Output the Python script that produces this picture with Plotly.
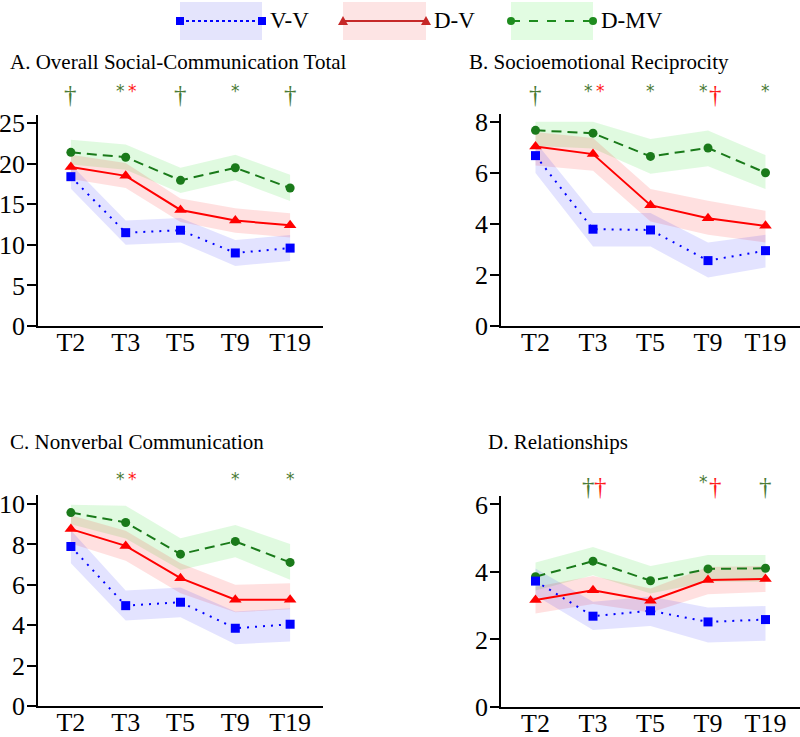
import plotly.graph_objects as go

# ---------------- data ----------------
TIMES = ["T2", "T3", "T5", "T9", "T19"]

# Panel A: Overall Social-Communication Total
A_VV = [18.4, 11.5, 11.8, 9.0, 9.6]
A_VV_LO = [16.9, 10.0, 10.3, 7.4, 8.0]
A_VV_HI = [19.9, 13.0, 13.3, 10.6, 11.2]
A_DV = [19.6, 18.5, 14.3, 13.0, 12.4]
A_DV_LO = [18.1, 17.0, 12.8, 11.5, 10.9]
A_DV_HI = [21.1, 20.1, 15.7, 14.5, 13.9]
A_DMV = [21.4, 20.8, 17.95, 19.5, 17.0]
A_DMV_LO = [19.9, 19.25, 16.4, 17.95, 15.4]
A_DMV_HI = [22.95, 22.35, 19.5, 21.1, 18.65]

# Panel B: Socioemotional Reciprocity
B_VV = [6.67, 3.79, 3.76, 2.56, 2.95]
B_VV_LO = [5.99, 3.11, 3.11, 1.90, 2.29]
B_VV_HI = [7.20, 4.42, 4.42, 3.27, 3.57]
B_DV = [7.03, 6.73, 4.73, 4.22, 3.92]
B_DV_LO = [6.28, 6.08, 4.09, 3.57, 3.27]
B_DV_HI = [7.60, 7.36, 5.36, 4.90, 4.51]
B_DMV = [7.66, 7.55, 6.64, 6.97, 6.00]
B_DMV_LO = [7.05, 6.95, 5.96, 6.25, 5.36]
B_DMV_HI = [8.00, 8.00, 7.32, 7.65, 6.69]

# Panel C: Nonverbal Communication
C_VV = [7.90, 4.97, 5.14, 3.85, 4.05]
C_VV_LO = [7.07, 4.23, 4.40, 3.06, 3.19]
C_VV_HI = [8.70, 5.72, 5.87, 4.68, 4.84]
C_DV = [8.76, 7.93, 6.33, 5.26, 5.26]
C_DV_LO = [8.05, 7.19, 5.59, 4.64, 4.79]
C_DV_HI = [9.45, 8.68, 7.07, 6.00, 6.08]
C_DMV = [9.58, 9.09, 7.52, 8.15, 7.11]
C_DMV_LO = [9.00, 8.30, 6.74, 7.37, 6.25]
C_DMV_HI = [9.97, 9.92, 8.31, 8.97, 8.02]

# Panel D: Relationships
D_VV = [3.73, 2.69, 2.85, 2.52, 2.59]
D_VV_LO = [3.30, 2.28, 2.40, 1.91, 1.96]
D_VV_HI = [4.10, 3.12, 3.27, 2.95, 2.99]
D_DV = [3.17, 3.46, 3.15, 3.76, 3.79]
D_DV_LO = [2.77, 3.05, 2.80, 3.34, 3.41]
D_DV_HI = [3.56, 3.88, 3.51, 4.15, 4.18]
D_DMV = [3.86, 4.32, 3.74, 4.09, 4.11]
D_DMV_LO = [3.45, 3.90, 3.36, 3.71, 3.71]
D_DMV_HI = [4.28, 4.74, 4.18, 4.50, 4.50]

# significance markers: (time, symbol, group)  g = D-MV, r = D-V
SIG_A = [("T2", "†", "g"), ("T3", "*", "g"), ("T3", "*", "r"), ("T5", "†", "g"),
         ("T9", "*", "g"), ("T19", "†", "g")]
SIG_B = [("T2", "†", "g"), ("T3", "*", "g"), ("T3", "*", "r"), ("T5", "*", "g"),
         ("T9", "*", "g"), ("T9", "†", "r"), ("T19", "*", "g")]
SIG_C = [("T3", "*", "g"), ("T3", "*", "r"), ("T9", "*", "g"), ("T19", "*", "g")]
SIG_D = [("T3", "†", "g"), ("T3", "†", "r"), ("T9", "*", "g"), ("T9", "†", "r"),
         ("T19", "†", "g")]

TITLES = ["A. Overall Social-Communication Total", "B. Socioemotional Reciprocity",
          "C. Nonverbal Communication", "D. Relationships"]
Y_TICKS = [[0, 5, 10, 15, 20, 25], [0, 2, 4, 6, 8], [0, 2, 4, 6, 8, 10], [0, 2, 4, 6]]
GROUPS = ["V-V", "D-V", "D-MV"]

# ---------------- styling / layout ----------------
W, H = 800, 737
FONT = "Liberation Serif, Times New Roman, serif"
COL = {"V-V": "#0000ff", "D-V": "#ff0000", "D-MV": "#1a7a1a"}
BAND = {"V-V": "rgba(0,0,255,0.11)", "D-V": "rgba(255,0,0,0.12)", "D-MV": "rgba(0,210,0,0.12)"}
DASH = {"V-V": "2px,6px", "D-V": "solid", "D-MV": "10px,6px"}
SYM = {"V-V": "square", "D-V": "triangle-up", "D-MV": "circle"}
MSIZE = {"V-V": 9, "D-V": 11, "D-MV": 9}
SIGCOL = {"g": "#4a7a35", "r": "#ff1a1a"}


def px(x):
    return x / W


def py(y):
    return 1 - y / H


# pixel geometry of panels: (x_left, x_right, y_bottom(=0), y_top, ymax)
PANELS = [
    (38, 323, 326, 115, 26.0),
    (501, 800, 326, 114, 8.3),
    (38, 323, 706, 495, 10.45),
    (501, 800, 707, 496, 6.25),
]
TITLE_POS = [(8, 62), (467, 62), (8, 442), (486, 442)]
SIG_Y = [90, 90, 478, 481]

panel_data = [
    [(A_VV, A_VV_LO, A_VV_HI), (A_DV, A_DV_LO, A_DV_HI), (A_DMV, A_DMV_LO, A_DMV_HI)],
    [(B_VV, B_VV_LO, B_VV_HI), (B_DV, B_DV_LO, B_DV_HI), (B_DMV, B_DMV_LO, B_DMV_HI)],
    [(C_VV, C_VV_LO, C_VV_HI), (C_DV, C_DV_LO, C_DV_HI), (C_DMV, C_DMV_LO, C_DMV_HI)],
    [(D_VV, D_VV_LO, D_VV_HI), (D_DV, D_DV_LO, D_DV_HI), (D_DMV, D_DMV_LO, D_DMV_HI)],
]
SIGS = [SIG_A, SIG_B, SIG_C, SIG_D]

fig = go.Figure()
layout_axes = {}
annotations = []

for i, (xl, xr, yb, yt, ymax) in enumerate(PANELS):
    n = i + 1
    xa = "x" if n == 1 else f"x{n}"
    ya = "y" if n == 1 else f"y{n}"
    series = dict(zip(GROUPS, panel_data[i]))
    for g in ["D-MV", "D-V", "V-V"]:
        m, lo, hi = series[g]
        fig.add_trace(go.Scatter(x=TIMES, y=lo, mode="lines", line=dict(width=0),
                                 hoverinfo="skip", showlegend=False, xaxis=xa, yaxis=ya))
        fig.add_trace(go.Scatter(x=TIMES, y=hi, mode="lines", line=dict(width=0),
                                 fill="tonexty", fillcolor=BAND[g],
                                 hoverinfo="skip", showlegend=False, xaxis=xa, yaxis=ya))
    for g in ["D-MV", "D-V", "V-V"]:
        m, lo, hi = series[g]
        fig.add_trace(go.Scatter(
            x=TIMES, y=m, mode="lines+markers", name=g, showlegend=False,
            line=dict(color=COL[g], width=2, dash=DASH[g]),
            marker=dict(symbol=SYM[g], size=MSIZE[g], color=COL[g]),
            xaxis=xa, yaxis=ya))

    layout_axes[f"xaxis{'' if n == 1 else n}"] = dict(
        domain=[px(xl), px(xr)], anchor=ya, type="category",
        categoryorder="array", categoryarray=TIMES, range=[-0.6, 4.6],
        showline=True, linecolor="black", linewidth=1.5, showgrid=False,
        zeroline=False, ticks="", ticklabelstandoff=-8, automargin=False,
        tickfont=dict(family=FONT, size=26, color="black"), fixedrange=True)
    layout_axes[f"yaxis{'' if n == 1 else n}"] = dict(
        domain=[py(yb), py(yt)], anchor=xa, range=[0, ymax],
        tickvals=Y_TICKS[i], showline=True, linecolor="black", linewidth=1.5,
        showgrid=False, zeroline=False, ticks="outside", ticklen=9, tickwidth=1.5,
        tickcolor="black", tickfont=dict(family=FONT, size=26, color="black"),
        ticklabelstandoff=-3, automargin=False, fixedrange=True)

    tx, ty = TITLE_POS[i]
    annotations.append(dict(text=TITLES[i], xref="paper", yref="paper", x=px(tx), y=py(ty),
                            xanchor="left", yanchor="middle", showarrow=False,
                            font=dict(family=FONT, size=21, color="black")))

    times_with = {}
    for t, s, c in SIGS[i]:
        times_with.setdefault(t, []).append((s, c))
    for t, items in times_with.items():
        for k, (s, c) in enumerate(items):
            shift = 0 if len(items) == 1 else (-5 if k == 0 else 7)
            if s == "†":
                annotations.append(dict(text=s, xref=xa, yref="paper", x=t, y=py(SIG_Y[i] + 5),
                                        xshift=shift, xanchor="center", yanchor="middle",
                                        showarrow=False,
                                        font=dict(family=FONT, size=25, color=SIGCOL[c])))
            else:
                annotations.append(dict(text=s, xref=xa, yref="paper", x=t, y=py(SIG_Y[i] + 1),
                                        xshift=shift, xanchor="center", yanchor="middle",
                                        showarrow=False,
                                        font=dict(family="DejaVu Sans", size=17, color=SIGCOL[c])))

# ---------------- custom legend ----------------
LEG_BOX = {"V-V": (180, 262), "D-V": (343, 426), "D-MV": (511, 593)}
LEG_COL = {"V-V": "#0000ff", "D-V": "#c62828", "D-MV": "#1e8c1e"}
LEG_FILL = {"V-V": "#e4e4fc", "D-V": "#fde4e4", "D-MV": "#e2fce2"}
LEG_DASH = {"V-V": "dot", "D-V": "solid", "D-MV": "dash"}
shapes = []
ly = 21
for g in GROUPS:
    x0, x1 = LEG_BOX[g]
    shapes.append(dict(type="rect", xref="paper", yref="paper", x0=px(x0), x1=px(x1),
                       y0=py(40), y1=py(2), fillcolor=LEG_FILL[g], line=dict(width=0),
                       layer="below"))
    shapes.append(dict(type="line", xref="paper", yref="paper", x0=px(x0), x1=px(x1),
                       y0=py(ly), y1=py(ly), line=dict(color=LEG_COL[g], width=2,
                                                       dash=LEG_DASH[g])))
    for xc in (x0, x1):
        if g == "V-V":
            shapes.append(dict(type="rect", xref="paper", yref="paper",
                               x0=px(xc - 4), x1=px(xc + 4), y0=py(ly + 4), y1=py(ly - 4),
                               fillcolor=LEG_COL[g], line=dict(width=0)))
        elif g == "D-MV":
            shapes.append(dict(type="circle", xref="paper", yref="paper",
                               x0=px(xc - 4), x1=px(xc + 4), y0=py(ly + 4), y1=py(ly - 4),
                               fillcolor=LEG_COL[g], line=dict(width=0)))
        else:
            shapes.append(dict(type="path", xref="paper", yref="paper",
                               path=f"M {px(xc-5)},{py(ly+4)} L {px(xc+5)},{py(ly+4)} "
                                    f"L {px(xc)},{py(ly-5)} Z",
                               fillcolor=LEG_COL[g], line=dict(width=0)))
    annotations.append(dict(text=g, xref="paper", yref="paper", x=px(x1 + 6), y=py(ly),
                            xanchor="left", yanchor="middle", showarrow=False,
                            font=dict(family=FONT, size=23, color="black")))

fig.update_layout(
    template="none",
    width=W, height=H, margin=dict(l=0, r=0, t=0, b=0, pad=0), autosize=False,
    paper_bgcolor="white", plot_bgcolor="white", showlegend=False,
    annotations=annotations, shapes=shapes, **layout_axes)

fig.write_html("out.html",
               config={"displayModeBar": False},
               post_script="document.body.style.margin='0';"
                           "document.body.style.overflow='hidden';"
                           "document.documentElement.style.overflow='hidden';")
